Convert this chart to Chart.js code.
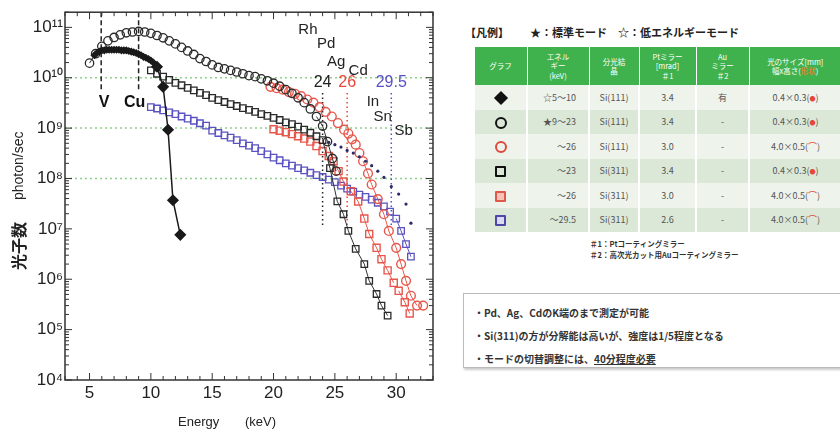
<!DOCTYPE html>
<html lang="ja">
<head>
  <meta charset="UTF-8" />
  <title>光子数スペクトル</title>
  <script src="https://cdn.jsdelivr.net/npm/chart.js"></script>
  <style>
    body { margin: 0; width: 840px; height: 432px; background: #fff; position: relative; overflow: hidden; font-family: "Noto Sans CJK JP", sans-serif; }
    #plot { position: absolute; left: 0; top: 0; width: 440px; height: 432px; }
    .legend-head { position: absolute; top: 24px; left: 465px; font-size: 11px; font-weight: bold; color: #222; white-space: nowrap; }
    .legend-head .modes { position: absolute; left: 65px; }
    table.spec { position: absolute; left: 473px; top: 47px; width: 367px; border-collapse: collapse; table-layout: fixed; color: #555; }
    table.spec th { background: #3fb24d; color: #fff; font-weight: normal; font-size: 7.5px; line-height: 9.5px; height: 38px; padding: 0 1px; border-left: 1px solid #fff; }
    table.spec td { height: 24.5px; padding: 0; font-size: 9px; text-align: center; border-left: 2px solid #fff; }
    table.spec tr:nth-child(odd) td { background: #eef3ec; }
    table.spec tr:nth-child(even) td { background: #dbe8d7; }
    table.spec td.en { text-align: right; padding-right: 12px; }
    .mk { display: inline-block; box-sizing: border-box; vertical-align: middle; }
    .ci { width: 12px; height: 12px; border: 2.5px solid #111; border-radius: 50%; }
    .sq { width: 11px; height: 11px; border: 2.5px solid #111; border-radius: 1px; }
    .dia { width: 10px; height: 10px; background: #111; transform: rotate(45deg); }
    .red { color: #e8463a; }
    .dot { font-size: 6px; vertical-align: middle; }
    .notes { position: absolute; left: 590px; top: 238px; font-size: 7.5px; line-height: 11px; color: #333; font-weight: bold; }
    .box { position: absolute; left: 463px; top: 293px; width: 390px; height: 75px; border: 1px solid #bbb; box-shadow: 1px 2px 2px #ccc; box-sizing: border-box; padding: 7px 0 0 10px; font-size: 10px; line-height: 23px; color: #333; font-weight: bold; }
    .box u { text-decoration: underline; }
  </style>
</head>
<body>
  <div id="plot"><canvas id="chart"></canvas></div>

  <div class="legend-head"><span>【凡例】</span><span class="modes">★：標準モード　☆：低エネルギーモード</span></div>
  <table class="spec">
    <colgroup>
      <col style="width:53px"><col style="width:62px"><col style="width:50px"><col style="width:57px"><col style="width:53px"><col style="width:92px">
    </colgroup>
    <thead>
      <tr>
        <th>グラフ</th>
        <th>エネル<br>ギー<br>(keV)</th>
        <th>分光結<br>晶</th>
        <th>Ptミラー<br>[mrad]<br>＃1</th>
        <th>Au<br>ミラー<br>＃2</th>
        <th>光のサイズ[mm]<br>幅x高さ(<span style="color:#ff7a2a">形状</span>)</th>
      </tr>
    </thead>
    <tbody>
      <tr><td><span class="mk dia"></span></td><td class="en">☆5～10</td><td>Si(111)</td><td>3.4</td><td>有</td><td>0.4×0.3(<span class="red dot">●</span>)</td></tr>
      <tr><td><span class="mk ci"></span></td><td class="en">★9～23</td><td>Si(111)</td><td>3.4</td><td>-</td><td>0.4×0.3(<span class="red dot">●</span>)</td></tr>
      <tr><td><span class="mk ci" style="border-color:#e0483c"></span></td><td class="en">～26</td><td>Si(111)</td><td>3.0</td><td>-</td><td>4.0×0.5(<span class="red">⌒</span>)</td></tr>
      <tr><td><span class="mk sq"></span></td><td class="en">～23</td><td>Si(311)</td><td>3.4</td><td>-</td><td>0.4×0.3(<span class="red dot">●</span>)</td></tr>
      <tr><td><span class="mk sq" style="border-color:#e0584a;background:#f6c3b8"></span></td><td class="en">～26</td><td>Si(311)</td><td>3.0</td><td>-</td><td>4.0×0.5(<span class="red">⌒</span>)</td></tr>
      <tr><td><span class="mk sq" style="border-color:#4d47a8;background:#dcd9f2"></span></td><td class="en">～29.5</td><td>Si(311)</td><td>2.6</td><td>-</td><td>4.0×0.5(<span class="red">⌒</span>)</td></tr>
    </tbody>
  </table>
  <div class="notes">＃1：Ptコーティングミラー<br>＃2：高次光カット用Auコーティングミラー</div>
  <div class="box">
    ・Pd、Ag、CdのK端のまで測定が可能<br>
    ・Si(311)の方が分解能は高いが、強度は1/5程度となる<br>
    ・モードの切替調整には、<u>40分程度必要</u>
  </div>

  <script>
    // --- data (energy in keV, flux in photon/sec) ---
    const diaE = [5.4, 5.6, 5.8, 6.0, 6.2, 6.4, 6.6, 6.8, 7.0, 7.2, 7.4, 7.6, 7.8, 8.0, 8.2, 8.4, 8.6, 8.8, 9.0, 9.2, 9.4, 9.6, 9.8, 10.0, 10.2, 10.5, 11.0, 11.4, 11.8, 12.4];
    const diaFlux = [2.8e10, 3.1e10, 3.3e10, 3.5e10, 3.5e10, 3.6e10, 3.6e10, 3.6e10, 3.6e10, 3.6e10, 3.6e10, 3.5e10, 3.5e10, 3.5e10, 3.4e10, 3.3e10, 3.2e10, 3.1e10, 2.95e10, 2.8e10, 2.6e10, 2.5e10, 2.35e10, 2.2e10, 2.0e10, 1.65e10, 6.6e9, 9.3e8, 3.7e7, 7.6e6];

    const circE = [5.0, 5.5, 6.0, 6.5, 7.0, 7.5, 8.0, 8.5, 9.0, 9.5, 10.0, 10.5, 11.0, 11.5, 12.0, 12.5, 13.0, 13.5, 14.0, 14.5, 15.0, 15.5, 16.0, 16.5, 17.0, 17.5, 18.0, 18.5, 19.0, 19.5, 20.0, 20.5, 21.0, 21.5, 22.0, 22.5, 23.0, 23.5, 24.0, 24.4, 24.8, 25.1];
    const circFlux = [1.95e10, 3.0e10, 4.2e10, 5.4e10, 6.3e10, 7.1e10, 7.8e10, 8.1e10, 8.3e10, 8.1e10, 7.6e10, 6.9e10, 6.2e10, 5.4e10, 4.7e10, 4.0e10, 3.4e10, 2.9e10, 2.4e10, 2.1e10, 1.8e10, 1.6e10, 1.5e10, 1.4e10, 1.3e10, 1.2e10, 1.1e10, 1.05e10, 9.5e9, 8.7e9, 7.8e9, 6.8e9, 5.8e9, 4.9e9, 4.0e9, 3.2e9, 2.4e9, 1.7e9, 1.1e9, 5.4e8, 2.5e8, 1.4e8];

    const redCircE = [19.75, 20.25, 20.75, 21.25, 21.75, 22.25, 22.75, 23.25, 23.75, 24.25, 24.75, 25.25, 25.75, 26.1, 26.4, 26.7, 27.0, 27.3, 27.7, 28.0, 28.5, 29.0, 29.4, 30.0, 30.4, 30.8, 31.2, 31.7, 32.2];
    const redCircFlux = [6.6e9, 6.2e9, 5.8e9, 5.2e9, 4.8e9, 4.3e9, 3.7e9, 3.2e9, 2.6e9, 2.1e9, 1.7e9, 1.26e9, 9.3e8, 7.8e8, 6.0e8, 4.7e8, 3.2e8, 2.2e8, 1.26e8, 7.6e7, 3.9e7, 1.95e7, 9.1e6, 4.2e6, 2.0e6, 9.3e5, 4.7e5, 3.0e5, 3.0e5];

    const sqE = [10.0, 10.5, 11.0, 11.5, 12.0, 12.5, 13.0, 13.5, 14.0, 14.5, 15.0, 15.5, 16.0, 16.5, 17.0, 17.5, 18.0, 18.5, 19.0, 19.5, 20.0, 20.5, 21.0, 21.5, 22.0, 22.5, 23.0, 23.5, 24.0, 24.6, 25.2, 25.7, 26.1, 26.7, 27.4, 27.8, 28.4, 28.8, 29.3];
    const sqFlux = [1.4e10, 1.2e10, 1.05e10, 9.1e9, 7.9e9, 7.1e9, 6.3e9, 5.6e9, 5.0e9, 4.5e9, 4.0e9, 3.6e9, 3.3e9, 3.0e9, 2.75e9, 2.5e9, 2.3e9, 2.1e9, 1.9e9, 1.75e9, 1.6e9, 1.45e9, 1.3e9, 1.2e9, 1.07e9, 9.3e8, 8.1e8, 6.9e8, 5.8e8, 1.6e8, 3.5e7, 1.95e7, 9.1e6, 4.0e6, 2.0e6, 9.3e5, 5.1e5, 3.0e5, 1.9e5];

    const dotE = [24.5, 25.0, 25.5, 26.0, 26.5, 27.0, 27.5, 28.0, 28.5, 29.0, 29.6, 30.2, 30.8, 31.2];
    const dotFlux = [5.2e8, 4.7e8, 4.2e8, 3.6e8, 3.2e8, 2.7e8, 2.2e8, 1.8e8, 1.4e8, 1.05e8, 6.9e7, 4.9e7, 3.1e7, 1.3e7];

    const redSqE = [20.0, 20.5, 21.0, 21.5, 22.0, 22.5, 23.0, 23.5, 24.0, 24.5, 24.9, 25.3, 25.7, 26.3, 26.9, 27.4, 27.8, 28.4, 28.8, 29.3, 29.8, 30.2, 30.7, 31.1];
    const redSqFlux = [9.5e8, 8.9e8, 8.3e8, 7.6e8, 6.9e8, 6.2e8, 5.4e8, 4.4e8, 3.5e8, 2.8e8, 2.2e8, 1.4e8, 8.7e7, 5.6e7, 3.5e7, 1.6e7, 7.9e6, 4.2e6, 2.5e6, 1.5e6, 8.5e5, 5.9e5, 3.5e5, 2.1e5];

    const blueE = [10.0, 10.5, 11.0, 11.5, 12.0, 12.5, 13.0, 13.5, 14.0, 14.5, 15.0, 15.5, 16.0, 16.5, 17.0, 17.5, 18.0, 18.5, 19.0, 19.5, 20.0, 20.5, 21.0, 21.5, 22.0, 22.5, 23.0, 23.5, 24.0, 24.5, 25.0, 25.5, 26.0, 26.5, 27.0, 27.5, 28.0, 28.5, 29.0, 29.5, 30.0, 30.4, 30.8, 31.2];
    const blueFlux = [2.6e9, 2.45e9, 2.25e9, 2.05e9, 1.9e9, 1.7e9, 1.55e9, 1.4e9, 1.25e9, 1.12e9, 8.9e8, 8.0e8, 7.2e8, 6.5e8, 5.8e8, 5.0e8, 4.5e8, 4.0e8, 3.5e8, 3.0e8, 2.6e8, 2.3e8, 2.0e8, 1.8e8, 1.6e8, 1.45e8, 1.3e8, 1.17e8, 1.07e8, 9.5e7, 8.5e7, 7.2e7, 6.3e7, 5.5e7, 4.8e7, 4.3e7, 3.8e7, 3.3e7, 2.8e7, 2.2e7, 1.6e7, 9.1e6, 5.0e6, 2.8e6];

    // axis ticks
    const xTicks = [5, 10, 15, 20, 25, 30];
    const yTicks = [1e4, 1e5, 1e6, 1e7, 1e8, 1e9, 1e10, 1e11];
    const yTickLabels = ['10⁴', '10⁵', '10⁶', '10⁷', '10⁸', '10⁹', '10¹⁰', '10¹¹'];

    // annotations
    const gridFlux = [1e10, 1e9, 1e8];
    const edgeNames = ['V', 'Cu'];
    const edgeEnergy = [5.95, 9.0];
    const cutNames = ['24', '26', '29.5'];
    const cutEnergy = [24, 26, 29.6];
    const cutColors = ['#222', '#e8463a', '#5a50c4'];
    const elemNames = ['Rh', 'Pd', 'Ag', 'Cd', 'In', 'Sn', 'Sb'];
    const elemE = [22.8, 24.3, 25.1, 26.9, 28.1, 28.9, 30.6];
    const elemFlux = [9.1e10, 4.6e10, 2.1e10, 1.4e10, 3.3e9, 1.66e9, 8.9e8];

    const RED = '#e8574c', BLUE = '#5a52c0', BLACK = '#1a1a1a';
    const pts = (xs, ys) => xs.map((x, i) => ({ x: x, y: ys[i] }));
    // hide the joining line where markers overlap, show it on the steep tails
    const tail = color => ({
      borderColor: c => Math.hypot(c.p1.x - c.p0.x, c.p1.y - c.p0.y) > 10 ? color : 'rgba(0,0,0,0)'
    });

    const overlay = {
      id: 'overlay',
      beforeDatasetsDraw(chart) {
        const { ctx, chartArea: a, scales: { x, y } } = chart;
        ctx.save();
        ctx.lineWidth = 1.5;
        ctx.strokeStyle = '#8fd08a';
        ctx.setLineDash([2, 3]);
        gridFlux.forEach(v => {
          const py = y.getPixelForValue(v);
          ctx.beginPath(); ctx.moveTo(a.left, py); ctx.lineTo(a.right, py); ctx.stroke();
        });
        ctx.strokeStyle = '#222';
        ctx.setLineDash([5, 3]);
        edgeEnergy.forEach(e => {
          const px = x.getPixelForValue(e);
          ctx.beginPath(); ctx.moveTo(px, a.top); ctx.lineTo(px, y.getPixelForValue(5.8e9)); ctx.stroke();
        });
        ctx.setLineDash([1.5, 3]);
        cutEnergy.forEach((e, i) => {
          const px = x.getPixelForValue(e);
          ctx.strokeStyle = cutColors[i];
          ctx.beginPath(); ctx.moveTo(px, y.getPixelForValue(5e9)); ctx.lineTo(px, y.getPixelForValue(1.1e7)); ctx.stroke();
        });
        ctx.restore();
      },
      afterDatasetsDraw(chart) {
        const { ctx, chartArea: a, scales: { x, y } } = chart;
        ctx.save();
        // frame and inward ticks on all four sides
        ctx.strokeStyle = '#333';
        ctx.lineWidth = 1.5;
        ctx.strokeRect(a.left, a.top, a.right - a.left, a.bottom - a.top);
        ctx.lineWidth = 1;
        ctx.beginPath();
        for (let k = 3; k <= 33; k++) {
          const px = x.getPixelForValue(k), len = k % 5 === 0 ? 7 : 4;
          ctx.moveTo(px, a.bottom); ctx.lineTo(px, a.bottom - len);
          ctx.moveTo(px, a.top); ctx.lineTo(px, a.top + len);
        }
        for (let n = 4; n <= 11; n++) {
          for (let m = 1; m <= 9; m++) {
            const v = m * Math.pow(10, n);
            if (v > 2e11) break;
            const py = y.getPixelForValue(v), len = m === 1 ? 7 : 4;
            ctx.moveTo(a.left, py); ctx.lineTo(a.left + len, py);
            ctx.moveTo(a.right, py); ctx.lineTo(a.right - len, py);
          }
        }
        ctx.stroke();

        ctx.textAlign = 'center';
        ctx.textBaseline = 'middle';
        ctx.fillStyle = '#111';
        ctx.font = 'bold 16px "Liberation Sans"';
        edgeNames.forEach((t, i) => {
          ctx.fillText(t, x.getPixelForValue(edgeEnergy[i]) + (i === 0 ? 3 : -4), y.getPixelForValue(3.2e9));
        });
        ctx.font = '16px "Liberation Sans"';
        cutNames.forEach((t, i) => {
          ctx.fillStyle = cutColors[i];
          ctx.fillText(t, x.getPixelForValue(cutEnergy[i]), y.getPixelForValue(7.9e9));
        });
        ctx.fillStyle = '#222';
        ctx.font = '15px "Liberation Sans"';
        elemNames.forEach((t, i) => ctx.fillText(t, x.getPixelForValue(elemE[i]), y.getPixelForValue(elemFlux[i])));

        // axis titles
        ctx.fillStyle = '#222';
        ctx.textAlign = 'left';
        ctx.font = '13px "Liberation Sans"';
        ctx.fillText('Energy', 178, 422);
        ctx.fillText('(keV)', 245, 422);
        ctx.translate(19, 195);
        ctx.rotate(-Math.PI / 2);
        ctx.font = 'bold 16px "Noto Sans CJK JP"';
        ctx.fillText('光子数', -75, 0);
        ctx.font = '14px "Liberation Sans"';
        ctx.fillText('photon/sec', -5, 0);
        ctx.restore();
      }
    };

    new Chart(document.getElementById('chart'), {
      type: 'scatter',
      data: {
        datasets: [
          { label: '◆', data: pts(diaE, diaFlux), showLine: true, borderColor: BLACK, borderWidth: 1.5,
            pointStyle: 'rectRot', pointBackgroundColor: BLACK, pointBorderColor: BLACK,
            pointRadius: c => (c.raw && c.raw.x >= 10.5 ? 5 : 3) },
          { label: '○', data: pts(circE, circFlux), showLine: true, borderWidth: 1, segment: tail('#333'),
            pointStyle: 'circle', pointRadius: 4.2, pointBorderWidth: 1.3, pointBorderColor: '#2a2a2a', pointBackgroundColor: 'rgba(0,0,0,0)' },
          { label: '□', data: pts(sqE, sqFlux), showLine: true, borderWidth: 1, segment: tail('#333'),
            pointStyle: 'rect', pointRadius: 4.6, pointBorderWidth: 1.3, pointBorderColor: '#2a2a2a', pointBackgroundColor: 'rgba(0,0,0,0)' },
          { label: 'dots', data: pts(dotE, dotFlux), showLine: false,
            pointStyle: 'circle', pointRadius: 1.6, pointBorderWidth: 0, pointBackgroundColor: '#2b2b66' },
          { label: 'red ○', data: pts(redCircE, redCircFlux), showLine: true, borderWidth: 1, segment: tail(RED),
            pointStyle: 'circle', pointRadius: 4.4, pointBorderWidth: 1.4, pointBorderColor: RED, pointBackgroundColor: 'rgba(0,0,0,0)' },
          { label: 'red □', data: pts(redSqE, redSqFlux), showLine: true, borderWidth: 1, segment: tail(RED),
            pointStyle: 'rect', pointRadius: 5, pointBorderWidth: 1.4, pointBorderColor: RED, pointBackgroundColor: 'rgba(0,0,0,0)' },
          { label: 'blue □', data: pts(blueE, blueFlux), showLine: true, borderWidth: 1, segment: tail(BLUE),
            pointStyle: 'rect', pointRadius: 4.6, pointBorderWidth: 1.3, pointBorderColor: BLUE, pointBackgroundColor: 'rgba(0,0,0,0)' }
        ]
      },
      options: {
        responsive: true,
        maintainAspectRatio: false,
        animation: false,
        layout: { padding: { top: 10, right: 7, left: 0, bottom: 0 } },
        plugins: { legend: { display: false }, tooltip: { enabled: false } },
        scales: {
          x: {
            type: 'linear', min: 3, max: 33,
            afterBuildTicks: s => { s.ticks = xTicks.map(v => ({ value: v })); },
            afterFit: s => { s.height = 52; },
            grid: { display: false, drawTicks: false }, border: { display: false },
            ticks: { color: '#222', font: { family: 'Liberation Sans', size: 17 }, padding: 3, maxRotation: 0 }
          },
          y: {
            type: 'logarithmic', min: 1e4, max: 2e11,
            afterBuildTicks: s => { s.ticks = yTicks.map(v => ({ value: v })); },
            afterFit: s => { s.width = 65; },
            grid: { display: false, drawTicks: false }, border: { display: false },
            ticks: { color: '#222', font: { family: 'Liberation Sans', size: 17 }, padding: 2,
                     callback: (v, i) => yTickLabels[i] }
          }
        }
      },
      plugins: [overlay]
    });
  </script>
</body>
</html>
